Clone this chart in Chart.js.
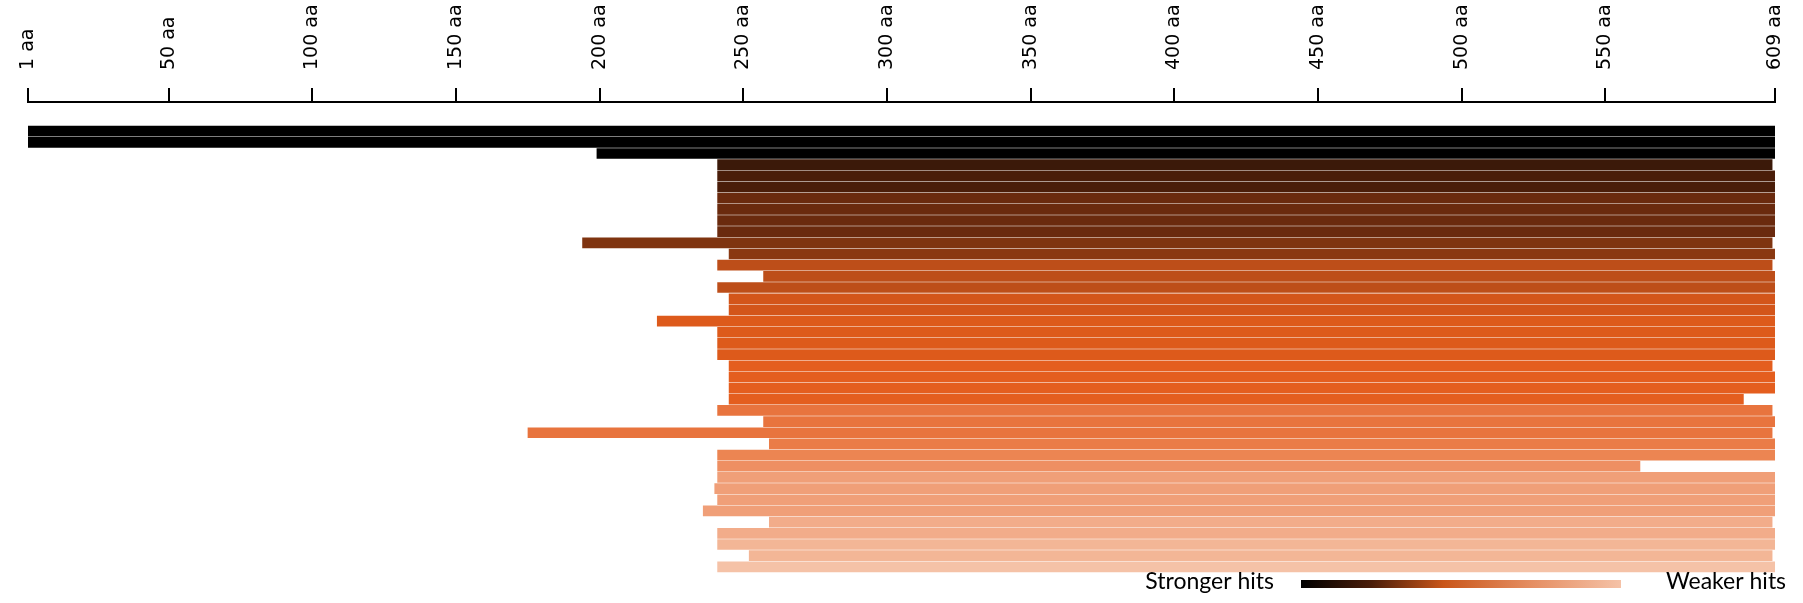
<!DOCTYPE html>
<html>
<head>
<meta charset="utf-8">
<script src="https://cdn.jsdelivr.net/npm/chart.js@4.4.1/dist/chart.umd.min.js"></script>
<style>
  html, body { margin: 0; padding: 0; background: #fff; }
  #wrap { width: 1803px; height: 603px; }
</style>
</head>
<body>
<div id="wrap"><canvas id="hits" width="1803" height="603"></canvas></div>
<script>
// hit rows, top to bottom (strongest first)
const hitIds    = [1,2,3,4,5,6,7,8,9,10,11,12,13,14,15,16,17,18,19,20,21,22,23,24,25,26,27,28,29,30,31,32,33,34,35,36,37,38,39,40];
const hitStarts = [1,1,199,241,241,241,241,241,241,241,194,245,241,257,241,245,245,220,241,241,241,245,245,245,245,241,257,175,259,241,241,241,240,241,236,259,241,241,252,241];
const hitEnds   = [609,609,609,608,609,609,609,609,609,609,608,609,608,609,609,609,609,609,609,609,609,608,609,609,598,608,609,608,609,609,562,609,609,609,609,608,609,609,608,609];
const hitColors = [
  '#000000','#000000','#000000','#3b1909','#4a1d09','#4a1d09','#6a2a0e','#6a2a0e','#6a2a0e','#6a2a0e',
  '#7f3410','#8a3811','#bd4e19','#bd4e19','#bd4e19','#d3551a','#d3551a','#dd5a1b','#dd5a1b','#dd5a1b',
  '#dd5a1b','#e45e1e','#e45e1e','#e45e1e','#e45e1e','#e8743e','#e8743e','#e8743e','#ea7c47','#ec8552',
  '#ee8f62','#f09f78','#f09f78','#f09f78','#f09f78','#f2ac8a','#f2ac8a','#f3b696','#f3b696','#f5c2a7'
];
const tickValues = [1, 50, 100, 150, 200, 250, 300, 350, 400, 450, 500, 550, 609];
const legendStops = [[0, '#000000'], [0.22, '#4a1d09'], [0.445, '#c9561a'], [0.72, '#e58e62'], [1, '#f5c2a7']];

// gradient key under the bars
const hitLegend = {
  id: 'hitLegend',
  afterDraw(chart) {
    const ctx = chart.ctx;
    const x0 = 1301, x1 = 1621, y0 = 580, h = 8;
    ctx.save();
    const grad = ctx.createLinearGradient(x0, 0, x1, 0);
    legendStops.forEach(s => grad.addColorStop(s[0], s[1]));
    ctx.fillStyle = grad;
    ctx.fillRect(x0, y0, x1 - x0, h);
    ctx.font = '23px Lato';
    ctx.fillStyle = '#000';
    ctx.textBaseline = 'middle';
    ctx.textAlign = 'right';
    ctx.fillText('Stronger hits', 1274, 582);
    ctx.textAlign = 'left';
    ctx.fillText('Weaker hits', 1666, 582);
    ctx.restore();
  }
};

new Chart(document.getElementById('hits'), {
  type: 'bar',
  data: {
    datasets: [{
      data: hitIds.map((id, i) => ({ x: [hitStarts[i], hitEnds[i]], y: id })),
      backgroundColor: hitColors,
      borderWidth: 0,
      barThickness: 10
    }]
  },
  options: {
    indexAxis: 'y',
    responsive: false,
    animation: false,
    layout: { padding: { left: 28, right: 28, top: 4, bottom: 0 } },
    plugins: { legend: { display: false }, tooltip: { enabled: false } },
    scales: {
      x: {
        type: 'linear',
        position: 'top',
        min: 1,
        max: 609,
        afterBuildTicks: scale => { scale.ticks = tickValues.map(v => ({ value: v })); },
        afterFit: scale => { scale.paddingLeft = 0; scale.paddingRight = 0; scale.height = 98; },
        grid: { drawOnChartArea: false, drawTicks: true, tickLength: 14, color: '#000', lineWidth: 2 },
        border: { display: true, color: '#000', width: 2 },
        ticks: {
          autoSkip: false,
          minRotation: 90,
          maxRotation: 90,
          padding: 18,
          labelOffset: 22.8,
          color: '#000',
          font: { family: 'DejaVu Sans', size: 19 },
          callback: v => v + ' aa'
        }
      },
      y: {
        type: 'linear',
        reverse: true,
        offset: false,
        grid: { offset: false },
        min: -1.61,
        max: 43.24,
        display: false
      }
    }
  },
  plugins: [hitLegend]
});
</script>
</body>
</html>
